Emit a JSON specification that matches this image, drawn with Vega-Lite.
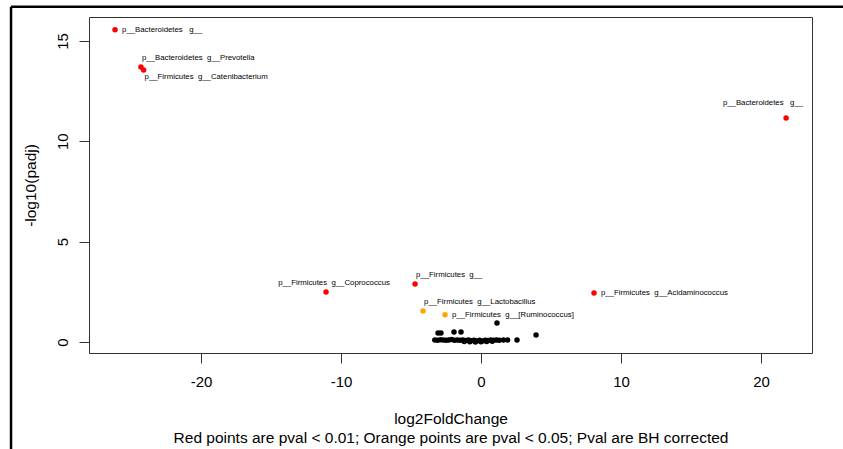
{
  "$schema": "https://vega.github.io/schema/vega-lite/v6.json",
  "width": 723,
  "height": 336,
  "autosize": {"type": "none"},
  "padding": {"left": 89, "top": 17, "right": 31, "bottom": 96},
  "background": "white",
  "config": {
    "view": {"stroke": "#333333", "strokeWidth": 1},
    "font": "Liberation Sans",
    "axis": {"grid": false, "domain": false, "tickColor": "#333333", "tickSize": 10, "labelFont": "Liberation Sans", "labelFontSize": 15, "labelColor": "black", "titleFont": "Liberation Sans", "titleFontSize": 15.5, "titleFontWeight": "normal", "titleColor": "black", "labelExpr": "toString(datum.value)"}
  },
  "datasets": {
    "pts": [
      {"lfc": -26.14, "nlp": 15.55, "grp": "p01", "label": "p__Bacteroidetes\u00a0\u00a0\u00a0g__", "side": "L"},
      {"lfc": -24.29, "nlp": 13.7, "grp": "p01", "label": "p__Bacteroidetes\u00a0\u00a0g__Prevotella", "side": "L"},
      {"lfc": -24.1, "nlp": 13.55, "grp": "p01", "label": "p__Firmicutes\u00a0\u00a0g__Catenibacterium", "side": "L"},
      {"lfc": 21.79, "nlp": 11.16, "grp": "p01", "label": "p__Bacteroidetes\u00a0\u00a0\u00a0g__", "side": "R"},
      {"lfc": -11.07, "nlp": 2.49, "grp": "p01", "label": "p__Firmicutes\u00a0\u00a0g__Coprococcus", "side": "L"},
      {"lfc": -4.71, "nlp": 2.89, "grp": "p01", "label": "p__Firmicutes\u00a0\u00a0g__", "side": "L"},
      {"lfc": 8.07, "nlp": 2.44, "grp": "p01", "label": "p__Firmicutes\u00a0\u00a0g__Acidaminococcus", "side": "R"},
      {"lfc": -4.14, "nlp": 1.54, "grp": "p05", "label": "p__Firmicutes\u00a0\u00a0g__Lactobacillus", "side": "L"},
      {"lfc": -2.57, "nlp": 1.35, "grp": "p05", "label": "p__Firmicutes\u00a0\u00a0g__[Ruminococcus]", "side": "L"},
      {"lfc": 1.14, "nlp": 0.95, "grp": "ns", "label": "", "side": ""},
      {"lfc": 3.93, "nlp": 0.35, "grp": "ns", "label": "", "side": ""},
      {"lfc": 2.57, "nlp": 0.1, "grp": "ns", "label": "", "side": ""},
      {"lfc": -3.07, "nlp": 0.45, "grp": "ns", "label": "", "side": ""},
      {"lfc": -2.86, "nlp": 0.45, "grp": "ns", "label": "", "side": ""},
      {"lfc": -1.93, "nlp": 0.5, "grp": "ns", "label": "", "side": ""},
      {"lfc": -1.43, "nlp": 0.5, "grp": "ns", "label": "", "side": ""},
      {"lfc": -3.3, "nlp": 0.1, "grp": "ns", "label": "", "side": ""},
      {"lfc": -3.1, "nlp": 0.09, "grp": "ns", "label": "", "side": ""},
      {"lfc": -2.9, "nlp": 0.11, "grp": "ns", "label": "", "side": ""},
      {"lfc": -2.7, "nlp": 0.1, "grp": "ns", "label": "", "side": ""},
      {"lfc": -2.5, "nlp": 0.08, "grp": "ns", "label": "", "side": ""},
      {"lfc": -2.3, "nlp": 0.1, "grp": "ns", "label": "", "side": ""},
      {"lfc": -2.1, "nlp": 0.12, "grp": "ns", "label": "", "side": ""},
      {"lfc": -1.9, "nlp": 0.09, "grp": "ns", "label": "", "side": ""},
      {"lfc": -1.7, "nlp": 0.1, "grp": "ns", "label": "", "side": ""},
      {"lfc": -1.5, "nlp": 0.08, "grp": "ns", "label": "", "side": ""},
      {"lfc": -1.3, "nlp": 0.1, "grp": "ns", "label": "", "side": ""},
      {"lfc": -1.1, "nlp": 0.07, "grp": "ns", "label": "", "side": ""},
      {"lfc": -0.9, "nlp": 0.1, "grp": "ns", "label": "", "side": ""},
      {"lfc": -0.7, "nlp": 0.06, "grp": "ns", "label": "", "side": ""},
      {"lfc": -0.5, "nlp": 0.09, "grp": "ns", "label": "", "side": ""},
      {"lfc": -0.3, "nlp": 0.05, "grp": "ns", "label": "", "side": ""},
      {"lfc": -0.1, "nlp": 0.08, "grp": "ns", "label": "", "side": ""},
      {"lfc": 0.1, "nlp": 0.05, "grp": "ns", "label": "", "side": ""},
      {"lfc": 0.3, "nlp": 0.09, "grp": "ns", "label": "", "side": ""},
      {"lfc": 0.5, "nlp": 0.07, "grp": "ns", "label": "", "side": ""},
      {"lfc": 0.7, "nlp": 0.1, "grp": "ns", "label": "", "side": ""},
      {"lfc": 0.9, "nlp": 0.08, "grp": "ns", "label": "", "side": ""},
      {"lfc": 1.1, "nlp": 0.1, "grp": "ns", "label": "", "side": ""},
      {"lfc": 1.3, "nlp": 0.09, "grp": "ns", "label": "", "side": ""},
      {"lfc": 1.6, "nlp": 0.1, "grp": "ns", "label": "", "side": ""},
      {"lfc": 1.9, "nlp": 0.1, "grp": "ns", "label": "", "side": ""},
      {"lfc": -1.2, "nlp": 0.02, "grp": "ns", "label": "", "side": ""},
      {"lfc": -0.8, "nlp": 0.01, "grp": "ns", "label": "", "side": ""},
      {"lfc": -0.4, "nlp": 0.0, "grp": "ns", "label": "", "side": ""},
      {"lfc": 0.0, "nlp": 0.01, "grp": "ns", "label": "", "side": ""},
      {"lfc": 0.4, "nlp": 0.02, "grp": "ns", "label": "", "side": ""},
      {"lfc": 0.8, "nlp": 0.03, "grp": "ns", "label": "", "side": ""}
    ],
    "frame": [
      {"x1": -33.57, "x2": 25.9, "y1": 16.7, "y2": 16.7},
      {"x1": -33.57, "x2": -33.57, "y1": 16.7, "y2": -5.4}
    ]
  },
  "layer": [
    {
      "data": {"name": "frame"},
      "mark": {"type": "rule", "color": "black", "strokeWidth": 2.5, "clip": false},
      "encoding": {
        "x": {"field": "x1", "type": "quantitative", "scale": {"domain": [-28, 23.64], "nice": false, "zero": false}},
        "x2": {"field": "x2"},
        "y": {"field": "y1", "type": "quantitative", "scale": {"domain": [-0.55, 16.19], "nice": false, "zero": false}},
        "y2": {"field": "y2"}
      }
    },
    {
      "data": {"name": "pts"},
      "mark": {"type": "circle", "size": 30, "opacity": 1},
      "encoding": {
        "x": {"field": "lfc", "type": "quantitative", "scale": {"domain": [-28, 23.64], "nice": false, "zero": false},
          "axis": {"values": [-20, -10, 0, 10, 20], "labelPadding": 11, "title": ["log2FoldChange", "Red points are pval < 0.01; Orange points are pval < 0.05; Pval are BH corrected"], "titleY": 58, "titleBaseline": "top", "titleLineHeight": 19}},
        "y": {"field": "nlp", "type": "quantitative", "scale": {"domain": [-0.55, 16.19], "nice": false, "zero": false},
          "axis": {"values": [0, 5, 10, 15], "labelAngle": -90, "labelAlign": "center", "labelBaseline": "bottom", "labelPadding": 9, "title": "-log10(padj)", "titleX": -59, "titleY": 168, "titleAngle": -90, "titleAlign": "center", "titleBaseline": "middle"}},
        "color": {"field": "grp", "type": "nominal", "scale": {"domain": ["ns", "p05", "p01"], "range": ["black", "#ffa500", "#ff0000"]}, "legend": null}
      }
    },
    {
      "data": {"name": "pts"},
      "transform": [{"filter": "datum.side == 'L' && (indexof(datum.label, 'Prevotella') >= 0 || datum.label == 'p__Firmicutes\u00a0\u00a0g__' || indexof(datum.label, 'Lactobacillus') >= 0)"}],
      "mark": {"type": "text", "align": "left", "baseline": "middle", "dx": 1, "dy": -9, "fontSize": 7.8, "font": "Liberation Sans", "fill": "black"},
      "encoding": {"x": {"field": "lfc", "type": "quantitative"}, "y": {"field": "nlp", "type": "quantitative"}, "text": {"field": "label"}}
    },
    {
      "data": {"name": "pts"},
      "transform": [{"filter": "(datum.side == 'L' && datum.nlp > 15) || indexof(datum.label, 'Ruminococcus') >= 0 || indexof(datum.label, 'Acidaminococcus') >= 0"}],
      "mark": {"type": "text", "align": "left", "baseline": "middle", "dx": 7, "dy": 0.5, "fontSize": 7.8, "font": "Liberation Sans", "fill": "black"},
      "encoding": {"x": {"field": "lfc", "type": "quantitative"}, "y": {"field": "nlp", "type": "quantitative"}, "text": {"field": "label"}}
    },
    {
      "data": {"name": "pts"},
      "transform": [{"filter": "indexof(datum.label, 'Catenibacterium') >= 0"}],
      "mark": {"type": "text", "align": "left", "baseline": "middle", "dx": 1, "dy": 7.5, "fontSize": 7.8, "font": "Liberation Sans", "fill": "black"},
      "encoding": {"x": {"field": "lfc", "type": "quantitative"}, "y": {"field": "nlp", "type": "quantitative"}, "text": {"field": "label"}}
    },
    {
      "data": {"name": "pts"},
      "transform": [{"filter": "datum.side == 'R' && datum.lfc > 20"}],
      "mark": {"type": "text", "align": "right", "baseline": "middle", "dx": 17, "dy": -15, "fontSize": 7.8, "font": "Liberation Sans", "fill": "black"},
      "encoding": {"x": {"field": "lfc", "type": "quantitative"}, "y": {"field": "nlp", "type": "quantitative"}, "text": {"field": "label"}}
    },
    {
      "data": {"name": "pts"},
      "transform": [{"filter": "indexof(datum.label, 'Coprococcus') >= 0"}],
      "mark": {"type": "text", "align": "center", "baseline": "middle", "dx": 8, "dy": -9, "fontSize": 7.8, "font": "Liberation Sans", "fill": "black"},
      "encoding": {"x": {"field": "lfc", "type": "quantitative"}, "y": {"field": "nlp", "type": "quantitative"}, "text": {"field": "label"}}
    }
  ]
}
